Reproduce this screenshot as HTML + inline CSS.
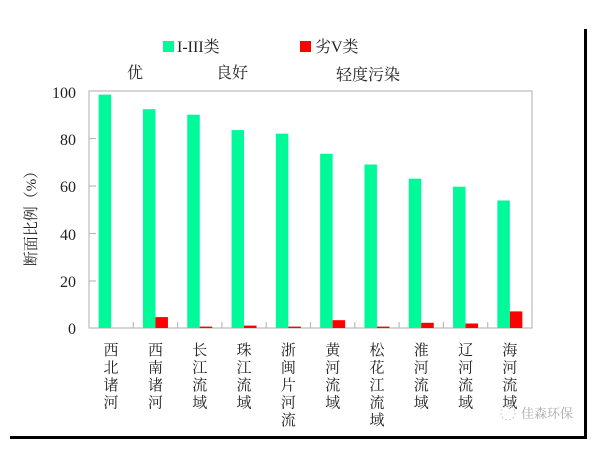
<!DOCTYPE html>
<html><head><meta charset="utf-8"><style>
html,body{margin:0;padding:0;background:#fff;}
svg text{font-family:"Liberation Serif","Noto Serif CJK SC",serif;fill:#222;}
</style></head><body>
<svg width="602" height="452" xmlns="http://www.w3.org/2000/svg">
<rect x="584" y="29" width="3" height="410" fill="#000"/>
<rect x="10" y="436" width="577" height="3" fill="#000"/>
<rect x="163" y="41" width="11" height="11" fill="#00FA9A"/>
<text x="177" y="52" font-size="16">I-III类</text>
<rect x="300" y="41" width="11" height="11" fill="#FF0000"/>
<text x="315" y="52" font-size="16">劣V类</text>
<text x="127" y="78" font-size="16">优</text>
<text x="216" y="78" font-size="16">良好</text>
<text x="336" y="80" font-size="16">轻度污染</text>
<text transform="translate(36,215) rotate(-90)" text-anchor="middle" font-size="15">断面比例（%）</text>
<g font-size="16" text-anchor="end">
<text x="76" y="334">0</text><text x="76" y="287">20</text><text x="76" y="240">40</text>
<text x="76" y="192">60</text><text x="76" y="145">80</text><text x="76" y="98">100</text>
</g>
<rect x="89" y="91" width="443" height="237" fill="none" stroke="#bbb" stroke-width="1.2"/>
<g stroke="#bbb" stroke-width="1.2">
<line x1="89" y1="281" x2="96" y2="281"/><line x1="89" y1="233.5" x2="96" y2="233.5"/>
<line x1="89" y1="186" x2="96" y2="186"/><line x1="89" y1="138.5" x2="96" y2="138.5"/>
<line x1="133.3" y1="322" x2="133.3" y2="328"/><line x1="177.6" y1="322" x2="177.6" y2="328"/>
<line x1="221.9" y1="322" x2="221.9" y2="328"/><line x1="266.2" y1="322" x2="266.2" y2="328"/>
<line x1="310.5" y1="322" x2="310.5" y2="328"/><line x1="354.8" y1="322" x2="354.8" y2="328"/>
<line x1="399.1" y1="322" x2="399.1" y2="328"/><line x1="443.4" y1="322" x2="443.4" y2="328"/>
<line x1="487.7" y1="322" x2="487.7" y2="328"/>
</g>
<g fill="#00FA9A">
<rect x="98.65" y="94.6" width="12.5" height="233.4"/>
<rect x="142.95" y="109.2" width="12.5" height="218.8"/>
<rect x="187.25" y="114.7" width="12.5" height="213.3"/>
<rect x="231.55" y="130.1" width="12.5" height="197.9"/>
<rect x="275.85" y="133.7" width="12.5" height="194.3"/>
<rect x="320.15" y="153.8" width="12.5" height="174.2"/>
<rect x="364.45" y="164.5" width="12.5" height="163.5"/>
<rect x="408.75" y="178.7" width="12.5" height="149.3"/>
<rect x="453.05" y="186.7" width="12.5" height="141.3"/>
<rect x="497.35" y="200.5" width="12.5" height="127.5"/>
</g>
<g fill="#FF0000">
<rect x="155.45" y="317.1" width="12.5" height="10.9"/>
<rect x="199.75" y="326.6" width="12.5" height="1.4"/>
<rect x="244.05" y="325.6" width="12.5" height="2.4"/>
<rect x="288.35" y="326.6" width="12.5" height="1.4"/>
<rect x="332.65" y="320.2" width="12.5" height="7.8"/>
<rect x="376.95" y="326.6" width="12.5" height="1.4"/>
<rect x="421.25" y="322.8" width="12.5" height="5.2"/>
<rect x="465.55" y="323.5" width="12.5" height="4.5"/>
<rect x="509.85" y="311.4" width="12.5" height="16.6"/>
</g>
<g font-size="15" text-anchor="middle">
<text x="111" y="355">西<tspan x="111" dy="17.5">北</tspan><tspan x="111" dy="17.5">诸</tspan><tspan x="111" dy="17.5">河</tspan></text>
<text x="155.5" y="355">西<tspan x="155.5" dy="17.5">南</tspan><tspan x="155.5" dy="17.5">诸</tspan><tspan x="155.5" dy="17.5">河</tspan></text>
<text x="199.8" y="355">长<tspan x="199.8" dy="17.5">江</tspan><tspan x="199.8" dy="17.5">流</tspan><tspan x="199.8" dy="17.5">域</tspan></text>
<text x="244" y="355">珠<tspan x="244" dy="17.5">江</tspan><tspan x="244" dy="17.5">流</tspan><tspan x="244" dy="17.5">域</tspan></text>
<text x="288.4" y="355">浙<tspan x="288.4" dy="17.5">闽</tspan><tspan x="288.4" dy="17.5">片</tspan><tspan x="288.4" dy="17.5">河</tspan><tspan x="288.4" dy="17.5">流</tspan></text>
<text x="332.7" y="355">黄<tspan x="332.7" dy="17.5">河</tspan><tspan x="332.7" dy="17.5">流</tspan><tspan x="332.7" dy="17.5">域</tspan></text>
<text x="377" y="355">松<tspan x="377" dy="17.5">花</tspan><tspan x="377" dy="17.5">江</tspan><tspan x="377" dy="17.5">流</tspan><tspan x="377" dy="17.5">域</tspan></text>
<text x="421.3" y="355">淮<tspan x="421.3" dy="17.5">河</tspan><tspan x="421.3" dy="17.5">流</tspan><tspan x="421.3" dy="17.5">域</tspan></text>
<text x="465.6" y="355">辽<tspan x="465.6" dy="17.5">河</tspan><tspan x="465.6" dy="17.5">流</tspan><tspan x="465.6" dy="17.5">域</tspan></text>
<text x="509.9" y="355">海<tspan x="509.9" dy="17.5">河</tspan><tspan x="509.9" dy="17.5">流</tspan><tspan x="509.9" dy="17.5">域</tspan></text>
</g>
<circle cx="508" cy="413" r="7" fill="none" stroke="#ccc" stroke-dasharray="2 2"/>
<text x="521" y="418" font-size="13" style="fill:#aaa" font-family="Liberation Sans,Noto Sans CJK SC,sans-serif">佳森环保</text>
</svg>
</body></html>
